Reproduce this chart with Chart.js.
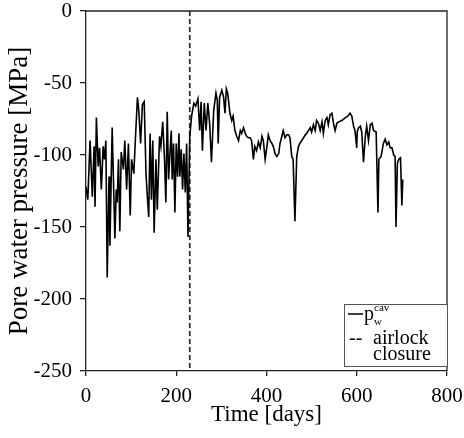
<!DOCTYPE html>
<html>
<head>
<meta charset="utf-8">
<script src="https://cdn.jsdelivr.net/npm/chart.js@4.4.0/dist/chart.umd.min.js"></script>
<style>
html,body{margin:0;padding:0;background:#fff;}
#wrap{width:464px;height:438px;position:relative;}
</style>
</head>
<body>
<div id="wrap"><canvas id="c" width="464" height="438"></canvas></div>
<script>
// ---- data ----
const days = [0,4,9,14,18,20,23,27,30,34,38,41,44,47,51,53,58,64,67,69,72,75,78,83,86,90,94,98,101,106,109,114,117,121,125,129,133,136,139,142,145,148,151,155,158,163,166,170,174,177,180,183,186,189,191,194,197,200,203,206,208,211,214,217,220,223,226,230,234,239,243,248,252,255,258,262,266,270,274,278,283,288,291,293,296,301,305,308,311,314,319,323,326,330,334,338,342,345,349,353,356,360,364,367,371,374,378,382,386,390,393,397,401,404,408,412,415,419,423,427,430,434,437,441,445,449,452,456,459,463,467,471,474,478,482,486,489,493,497,500,504,508,511,515,519,523,526,530,534,537,541,545,549,552,556,560,567,575,580,585,589,593,596,600,601,604,608,611,615,619,622,626,630,634,637,643,647,649,654,659,663,667,671,674,678,682,685,687,690,693,697,700,702];
const pw = [-122,-131,-90,-129,-94,-136,-74,-108,-95,-124,-94,-103,-90,-185,-115,-163,-81,-158,-124,-133,-103,-153,-98,-110,-90,-124,-92,-142,-103,-113,-92,-60,-69,-92,-65,-63,-113,-129,-143,-85,-131,-90,-154,-103,-138,-87,-94,-77,-103,-133,-70,-117,-99,-83,-117,-92,-140,-92,-115,-85,-115,-96,-124,-99,-126,-92,-157,-87,-73,-64,-66,-61,-83,-63,-97,-64,-83,-64,-78,-105,-69,-57,-62,-92,-60,-55,-60,-71,-54,-57,-71,-76,-73,-83,-87,-90,-83,-85,-81,-85,-87,-88,-88,-90,-103,-94,-97,-91,-95,-87,-90,-103,-94,-86,-90,-92,-94,-99,-101,-99,-92,-87,-83,-88,-86,-86,-88,-101,-103,-146,-101,-94,-92,-90,-88,-86,-85,-83,-81,-84,-79,-83,-76,-78,-83,-77,-85,-76,-74,-79,-72,-71,-79,-83,-78,-77,-76,-74,-73,-71,-73,-80,-83,-95,-84,-81,-80,-84,-105,-87,-80,-90,-79,-78,-83,-84,-140,-103,-101,-92,-89,-93,-91,-95,-95,-100,-101,-150,-106,-103,-102,-135,-117];
const closureDay = 230;
const xTicks = [0,200,400,600,800];
const yTicks = [0,-50,-100,-150,-200,-250];

const FONT = "'Liberation Serif','Times New Roman',serif";

const framePlugin = {
  id:'frame',
  afterDatasetsDraw(chart){
    const {ctx, chartArea:a} = chart;
    ctx.save();
    ctx.strokeStyle = '#222';
    ctx.lineWidth = 1.3;
    ctx.beginPath();
    ctx.moveTo(a.left, a.top);
    ctx.lineTo(a.right, a.top);
    ctx.lineTo(a.right, a.bottom);
    ctx.stroke();
    ctx.restore();
  },
  afterDraw(chart){
    const ctx = chart.ctx;
    ctx.save();
    // legend box
    const bx = 344, by = 304, bw = 103, bh = 62;
    ctx.fillStyle = '#fff';
    ctx.fillRect(bx, by, bw, bh);
    ctx.strokeStyle = '#555';
    ctx.lineWidth = 1;
    ctx.strokeRect(bx + 0.5, by + 0.5, bw, bh);
    // entry 1
    ctx.strokeStyle = '#000';
    ctx.lineWidth = 1.5;
    ctx.beginPath(); ctx.moveTo(348, 314); ctx.lineTo(363, 314); ctx.stroke();
    ctx.fillStyle = '#000';
    ctx.textBaseline = 'alphabetic';
    ctx.textAlign = 'left';
    ctx.font = "20px " + FONT;
    ctx.fillText('p', 364, 320);
    ctx.font = "11px " + FONT;
    ctx.fillText('w', 374, 325);
    ctx.fillText('cav', 374, 311);
    // entry 2
    ctx.font = "20px " + FONT;
    ctx.fillText('--', 349, 344);
    ctx.fillText('airlock', 373, 344);
    ctx.fillText('closure', 373, 360);
    ctx.restore();
  }
};

new Chart(document.getElementById('c'), {
  type:'line',
  data:{
    datasets:[
      {
        label:'p_w^cav',
        data: days.map((d,i)=>({x:d, y:pw[i]})),
        borderColor:'#000',
        borderWidth:1.6,
        pointRadius:0,
        tension:0,
        fill:false
      },
      {
        label:'airlock closure',
        data:[{x:closureDay, y:yTicks[0]},{x:closureDay, y:yTicks[yTicks.length-1]}],
        borderColor:'#333',
        borderWidth:1.8,
        borderDash:[5,3],
        pointRadius:0,
        fill:false
      }
    ]
  },
  options:{
    responsive:false,
    animation:false,
    layout:{padding:{top:11, right:17, left:0, bottom:0}},
    plugins:{legend:{display:false}, tooltip:{enabled:false}},
    scales:{
      x:{
        type:'linear',
        min:xTicks[0], max:xTicks[xTicks.length-1],
        afterBuildTicks(s){ s.ticks = xTicks.map(v=>({value:v})); },
        afterFit(s){ s.height = 67; s.paddingRight = 0; s.paddingLeft = 0; },
        grid:{display:true, drawOnChartArea:false, drawTicks:true, tickLength:5, color:'#222', lineWidth:1.3},
        border:{display:true, color:'#222', width:1.3},
        ticks:{color:'#000', font:{family:FONT, size:21, lineHeight:1}, padding:10, maxRotation:0, callback:v=>String(v)},
        title:{display:true, text:'Time [days]', color:'#000', font:{family:FONT, size:23}, padding:{top:0,bottom:9}}
      },
      y:{
        type:'linear',
        min:yTicks[yTicks.length-1], max:yTicks[0],
        afterBuildTicks(s){ s.ticks = yTicks.slice().reverse().map(v=>({value:v})); },
        afterFit(s){ s.width = 86; s.paddingTop = 0; s.paddingBottom = 0; },
        grid:{display:true, drawOnChartArea:false, drawTicks:true, tickLength:6, color:'#222', lineWidth:1.3},
        border:{display:true, color:'#222', width:1.3},
        ticks:{color:'#000', font:{family:FONT, size:21, lineHeight:1}, padding:8, callback:v=>String(v)},
        title:{display:true, text:'Pore water pressure [MPa]', color:'#000', font:{family:FONT, size:27}, padding:{top:4,bottom:0}}
      }
    }
  },
  plugins:[framePlugin]
});
</script>
</body>
</html>
